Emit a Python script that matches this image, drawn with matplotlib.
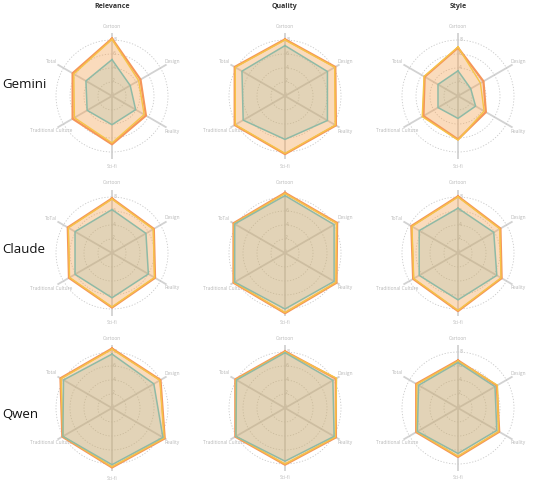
import numpy as np
import matplotlib
matplotlib.use('Agg')
import matplotlib.pyplot as plt

categories = ['Cartoon', 'Design', 'Reality', 'Sci-fi', 'Traditional Culture', 'Total']
models = ['Gemini', 'Claude', 'Qwen']
metrics = ['Relevance', 'Quality', 'Style']

# each block: [orange series, yellow series, green series]
gemini_relevance = [[8.2, 4.7, 5.6, 6.9, 6.5, 6.5],
                    [8.1, 4.4, 5.3, 6.7, 6.2, 6.3],
                    [5.2, 3.0, 3.9, 4.1, 4.1, 4.3]]
gemini_quality = [[8.1, 8.3, 8.4, 8.3, 8.3, 8.3],
                  [8.0, 8.2, 8.3, 8.2, 8.2, 8.2],
                  [7.2, 7.0, 7.0, 6.2, 6.9, 7.1]]
gemini_style = [[6.9, 4.2, 4.6, 6.2, 5.7, 5.5],
                [7.0, 3.7, 4.3, 6.3, 5.9, 5.6],
                [3.6, 2.1, 2.9, 3.2, 3.3, 3.3]]
claude_relevance = [[7.8, 6.9, 7.1, 7.8, 7.1, 7.3],
                    [7.7, 6.8, 7.0, 7.7, 7.0, 7.2],
                    [6.2, 5.6, 6.0, 6.4, 6.1, 6.1]]
claude_quality = [[8.6, 8.6, 8.5, 8.6, 8.5, 8.5],
                  [8.5, 8.5, 8.4, 8.5, 8.4, 8.4],
                  [8.2, 8.1, 8.1, 8.0, 8.3, 8.3]]
claude_style = [[8.1, 7.0, 7.2, 8.3, 7.4, 7.7],
                [8.0, 6.9, 7.1, 8.2, 7.3, 7.6],
                [6.4, 5.9, 6.4, 6.7, 6.4, 6.4]]
qwen_relevance = [[8.5, 8.0, 8.7, 8.5, 8.2, 8.5],
                  [8.4, 7.9, 8.6, 8.4, 8.1, 8.4],
                  [7.7, 6.9, 8.4, 8.1, 8.1, 8.0]]
qwen_quality = [[8.1, 8.4, 8.4, 8.1, 8.2, 8.2],
                [8.0, 8.5, 8.3, 8.0, 8.1, 8.1],
                [7.9, 7.9, 8.1, 7.6, 8.1, 8.0]]
qwen_style = [[6.8, 6.4, 6.8, 7.0, 6.9, 6.9],
              [6.7, 6.5, 6.7, 6.9, 6.8, 6.8],
              [6.5, 6.1, 6.4, 6.5, 6.7, 6.5]]

grid_data = [[gemini_relevance, gemini_quality, gemini_style],
             [claude_relevance, claude_quality, claude_style],
             [qwen_relevance, qwen_quality, qwen_style]]

line_colors = ['#f5965a', '#f6c447', '#8fbaa6']
line_widths = [1.6, 1.0, 1.1]
fill_alpha = [0.3, 0.12, 0.22]
label_col = '#b8b8b8'

W, H = 540, 487
fig = plt.figure(figsize=(5.4, 4.87), dpi=100)

centers_x = [112, 285, 458]
centers_y = [96, 253, 408]
half = 63
rmax = 9.0

angles = np.linspace(0, 2 * np.pi, len(categories), endpoint=False)

for i, model in enumerate(models):
    for j, metric in enumerate(metrics):
        cx, cy = centers_x[j], centers_y[i]
        ax = fig.add_axes([(cx - half) / W, 1 - (cy + half) / H, 2 * half / W, 2 * half / H],
                          projection='polar')
        ax.set_theta_offset(np.pi / 2)
        ax.set_theta_direction(-1)
        ax.set_ylim(0, rmax)
        ax.spines['polar'].set_visible(False)
        ax.patch.set_alpha(0)

        ax.set_xticks(angles)
        ax.set_xticklabels([])
        ax.xaxis.grid(True, color='#d2d2d2', linewidth=1.3, linestyle='-')
        ax.set_yticks([2, 4, 6, 8])
        ax.set_yticklabels([])
        ax.yaxis.grid(True, color='#c8c8c8', linewidth=0.6, linestyle=(0, (1.5, 2)))
        ax.tick_params(pad=0, length=0)

        # radial values along the Cartoon spoke
        for r in [0, 2, 4, 6, 8]:
            ax.text(0.06, r + 0.15, str(r), fontsize=3.3, color=label_col,
                    ha='center', va='center', zorder=1)

        labels = list(categories)
        if model == 'Claude':
            labels[-1] = 'ToTal'
        for a, lab in zip(angles, labels):
            ax.text(a, 10.0, lab, fontsize=3.5, color=label_col, ha='center', va='center',
                    family='Open Sans', zorder=1)

        series = grid_data[i][j]
        for k, vals in enumerate(series):
            v = list(vals) + [vals[0]]
            t = list(angles) + [angles[0]]
            ax.fill(t, v, color=line_colors[k], alpha=fill_alpha[k], zorder=2, linewidth=0)
        for k in [2, 0, 1]:
            vals = series[k]
            v = list(vals) + [vals[0]]
            t = list(angles) + [angles[0]]
            ax.plot(t, v, color=line_colors[k], linewidth=line_widths[k], zorder=3 + k % 3)

for j, metric in enumerate(metrics):
    fig.text(centers_x[j] / W, 1 - 6 / H, metric, fontsize=5, fontweight='bold',
             color='#333333', ha='center', va='center', family='Open Sans')

row_label_y = [85, 250, 415]
for i, model in enumerate(models):
    fig.text(2 / W, 1 - row_label_y[i] / H, model, fontsize=9.5, color='#111111',
             ha='left', va='center', family='Open Sans')

plt.savefig('out.png', dpi=100)
